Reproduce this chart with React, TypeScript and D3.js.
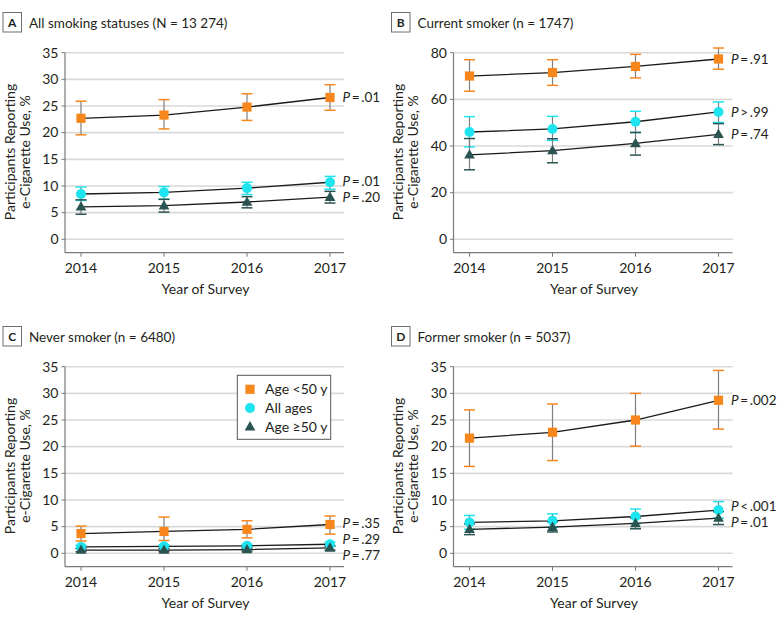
import React from "react";
import * as d3 from "d3";

// ---------- DATA ----------
const years = [2014, 2015, 2016, 2017];
const seriesNames = ["Age <50 y", "All ages", "Age ≥50 y"];

// Panel A: All smoking statuses
const aUnder50 = [22.7, 23.3, 24.8, 26.6];
const aUnder50Lo = [19.6, 20.7, 22.3, 24.2];
const aUnder50Hi = [25.9, 26.2, 27.3, 29.0];
const aAll = [8.5, 8.8, 9.6, 10.7];
const aAllLo = [7.3, 7.5, 8.4, 9.4];
const aAllHi = [9.8, 9.9, 10.7, 11.8];
const aOver50 = [6.1, 6.3, 7.0, 7.9];
const aOver50Lo = [4.7, 5.1, 5.9, 6.8];
const aOver50Hi = [7.4, 7.5, 8.0, 9.0];
const aP = ["=", "=", "="];
const aPv = [".01", ".01", ".20"];

// Panel B: Current smoker
const bUnder50 = [70.0, 71.5, 74.1, 77.3];
const bUnder50Lo = [63.5, 66.0, 69.2, 72.9];
const bUnder50Hi = [77.0, 77.0, 79.3, 82.0];
const bAll = [46.0, 47.3, 50.4, 54.6];
const bAllLo = [39.6, 42.4, 45.8, 50.1];
const bAllHi = [52.6, 52.7, 54.9, 58.9];
const bOver50 = [36.2, 38.0, 41.1, 45.0];
const bOver50Lo = [29.8, 32.8, 36.1, 40.6];
const bOver50Hi = [43.2, 43.1, 45.8, 49.6];
const bP = ["=", ">", "="];
const bPv = [".91", ".99", ".74"];

// Panel C: Never smoker
const cUnder50 = [3.7, 4.1, 4.5, 5.4];
const cUnder50Lo = [2.3, 2.4, 2.9, 3.6];
const cUnder50Hi = [5.1, 6.8, 6.1, 7.0];
const cAll = [1.2, 1.3, 1.4, 1.7];
const cAllLo = [0.9, 1.0, 1.1, 1.3];
const cAllHi = [1.5, 1.6, 1.7, 2.1];
const cOver50 = [0.6, 0.6, 0.7, 1.0];
const cOver50Lo = [0.3, 0.3, 0.4, 0.6];
const cOver50Hi = [0.9, 0.9, 1.0, 1.4];
const cP = ["=", "=", "="];
const cPv = [".35", ".29", ".77"];

// Panel D: Former smoker
const dUnder50 = [21.6, 22.7, 25.0, 28.7];
const dUnder50Lo = [16.3, 17.4, 20.1, 23.3];
const dUnder50Hi = [26.9, 28.0, 30.0, 34.3];
const dAll = [5.8, 6.1, 6.9, 8.1];
const dAllLo = [4.5, 4.9, 5.6, 6.6];
const dAllHi = [7.1, 7.4, 8.3, 9.7];
const dOver50 = [4.5, 4.9, 5.6, 6.6];
const dOver50Lo = [3.5, 4.0, 4.6, 5.4];
const dOver50Hi = [5.5, 5.9, 6.6, 7.8];
const dP = ["=", "<", "="];
const dPv = [".002", ".001", ".01"];

const ticks35 = [0, 5, 10, 15, 20, 25, 30, 35];
const ticks80 = [0, 20, 40, 60, 80];

// ---------- STYLE ----------
const COLORS = ["#F7861C", "#1DE4EF", "#2A5452"];
const FONT = "Lato, 'Open Sans', sans-serif";
const TEXT = "#231F20";

type Series = { mean: number[]; lo: number[]; hi: number[] };
type PanelDef = {
  letter: string;
  title: string;
  ox: number;
  oy: number;
  ticks: number[];
  series: Series[];
  p: string[];
  pv: string[];
  legend?: boolean;
};

const panels: PanelDef[] = [
  {
    letter: "A",
    title: "All smoking statuses (N = 13 274)",
    ox: 0,
    oy: 0,
    ticks: ticks35,
    series: [
      { mean: aUnder50, lo: aUnder50Lo, hi: aUnder50Hi },
      { mean: aAll, lo: aAllLo, hi: aAllHi },
      { mean: aOver50, lo: aOver50Lo, hi: aOver50Hi },
    ],
    p: aP,
    pv: aPv,
  },
  {
    letter: "B",
    title: "Current smoker (n = 1747)",
    ox: 388.5,
    oy: 0,
    ticks: ticks80,
    series: [
      { mean: bUnder50, lo: bUnder50Lo, hi: bUnder50Hi },
      { mean: bAll, lo: bAllLo, hi: bAllHi },
      { mean: bOver50, lo: bOver50Lo, hi: bOver50Hi },
    ],
    p: bP,
    pv: bPv,
  },
  {
    letter: "C",
    title: "Never smoker (n = 6480)",
    ox: 0,
    oy: 314,
    ticks: ticks35,
    series: [
      { mean: cUnder50, lo: cUnder50Lo, hi: cUnder50Hi },
      { mean: cAll, lo: cAllLo, hi: cAllHi },
      { mean: cOver50, lo: cOver50Lo, hi: cOver50Hi },
    ],
    p: cP,
    pv: cPv,
    legend: true,
  },
  {
    letter: "D",
    title: "Former smoker (n = 5037)",
    ox: 388.5,
    oy: 314,
    ticks: ticks35,
    series: [
      { mean: dUnder50, lo: dUnder50Lo, hi: dUnder50Hi },
      { mean: dAll, lo: dAllLo, hi: dAllHi },
      { mean: dOver50, lo: dOver50Lo, hi: dOver50Hi },
    ],
    p: dP,
    pv: dPv,
  },
];

function Marker({ kind, x, y }: { kind: number; x: number; y: number }) {
  if (kind === 0)
    return <rect x={x - 4.6} y={y - 4.6} width={9.2} height={9.2} fill={COLORS[0]} />;
  if (kind === 1) return <circle cx={x} cy={y} r={5} fill={COLORS[1]} />;
  const tri = d3.symbol().type(d3.symbolTriangle).size(50)();
  return <path d={tri || ""} transform={`translate(${x},${y + 0.6})`} fill={COLORS[2]} />;
}

function Panel({ def }: { def: PanelDef }) {
  const { ox, oy } = def;
  const yMax = def.ticks[def.ticks.length - 1];
  const y = d3.scaleLinear().domain([0, yMax]).range([oy + 239.3, oy + 52.7]);
  const x = d3.scaleLinear().domain([2014, 2017]).range([ox + 81, ox + 330]);
  const axisX = ox + 65;
  const axisBottom = oy + 252.7;
  const gridRight = ox + 344;
  const line = d3
    .line<number>()
    .x((_, i) => x(years[i]))
    .y((d) => y(d));

  // P label positions with iterative collision avoidance
  const raw = def.series.map((s, i) => ({ i, y: y(s.mean[s.mean.length - 1]) }));
  const sorted = [...raw].sort((a, b) => a.y - b.y);
  const minGap = 16;
  for (let pass = 0; pass < 40; pass++) {
    let moved = false;
    for (let k = 1; k < sorted.length; k++) {
      const prev = sorted[k - 1];
      const cur = sorted[k];
      const d = cur.y - prev.y;
      if (d < minGap - 0.01) {
        const push = (minGap - d) / 2;
        prev.y -= push;
        cur.y += push;
        moved = true;
      }
    }
    if (!moved) break;
  }

  return (
    <g>
      {/* Panel letter box and title */}
      <rect x={ox + 3} y={oy + 12.5} width={18.5} height={19.5} fill="#fff" stroke="#6d6e70" strokeWidth={1} />
      <text x={ox + 12.25} y={oy + 27} textAnchor="middle" fontWeight={700} fontSize={12} fill={TEXT} fontFamily={FONT}>
        {def.letter}
      </text>
      <text x={ox + 29} y={oy + 28.3} fontSize={13.5} fill={TEXT} fontFamily={FONT}>
        {def.title}
      </text>

      {/* gridlines */}
      {def.ticks.map((t) => (
        <line key={"g" + t} x1={axisX} x2={gridRight} y1={y(t)} y2={y(t)} stroke="#d9d9d9" strokeWidth={1.6} />
      ))}
      {/* y axis */}
      <line x1={axisX} x2={axisX} y1={y(yMax)} y2={axisBottom} stroke="#7a7a7a" strokeWidth={1.2} />
      {def.ticks.map((t) => (
        <g key={"t" + t}>
          <line x1={axisX - 3.5} x2={axisX} y1={y(t)} y2={y(t)} stroke="#7a7a7a" strokeWidth={1} />
          <text x={axisX - 6.5} y={y(t) + 4.8} textAnchor="end" fontSize={14} fill={TEXT} fontFamily={FONT}>
            {t}
          </text>
        </g>
      ))}
      {/* x axis */}
      <line x1={axisX} x2={gridRight} y1={axisBottom} y2={axisBottom} stroke="#7a7a7a" strokeWidth={1.2} />
      {years.map((yr) => (
        <g key={"x" + yr}>
          <line x1={x(yr)} x2={x(yr)} y1={axisBottom} y2={axisBottom + 4} stroke="#7a7a7a" strokeWidth={1} />
          <text x={x(yr)} y={axisBottom + 20} textAnchor="middle" fontSize={14} fill={TEXT} fontFamily={FONT}>
            {yr}
          </text>
        </g>
      ))}
      <text x={(axisX + gridRight) / 2 + 1} y={oy + 293.5} textAnchor="middle" fontSize={14} fill={TEXT} fontFamily={FONT}>
        Year of Survey
      </text>
      {/* y axis title */}
      <text
        transform={`translate(${ox + 14.5},${oy + 152}) rotate(-90)`}
        textAnchor="middle"
        fontSize={14}
        fill={TEXT}
        fontFamily={FONT}
      >
        Participants Reporting
      </text>
      <text
        transform={`translate(${ox + 29.5},${oy + 152}) rotate(-90)`}
        textAnchor="middle"
        fontSize={14}
        fill={TEXT}
        fontFamily={FONT}
      >
        e-Cigarette Use, %
      </text>

      {/* series: error bars, lines, markers */}
      {def.series.map((s, si) => (
        <g key={"s" + si}>
          {s.mean.map((m, i) => (
            <g key={"e" + i}>
              <line x1={x(years[i])} x2={x(years[i])} y1={y(s.lo[i])} y2={y(s.hi[i])} stroke="#7f7f7f" strokeWidth={1.2} />
              <line x1={x(years[i]) - 5.5} x2={x(years[i]) + 5.5} y1={y(s.lo[i])} y2={y(s.lo[i])} stroke={COLORS[si]} strokeWidth={1.5} />
              <line x1={x(years[i]) - 5.5} x2={x(years[i]) + 5.5} y1={y(s.hi[i])} y2={y(s.hi[i])} stroke={COLORS[si]} strokeWidth={1.5} />
            </g>
          ))}
        </g>
      ))}
      {def.series.map((s, si) => (
        <path key={"l" + si} d={line(s.mean) || ""} fill="none" stroke="#1a1a1a" strokeWidth={1.3} />
      ))}
      {def.series.map((s, si) => (
        <g key={"m" + si}>
          {s.mean.map((m, i) => (
            <Marker key={i} kind={si} x={x(years[i])} y={y(m)} />
          ))}
        </g>
      ))}
      {/* P labels */}
      {raw.map((r) => (
        <text key={"p" + r.i} x={ox + 342.5} y={r.y + 4.6} fontSize={13.5} fill={TEXT} fontFamily={FONT}>
          <tspan fontStyle="italic">P</tspan>
          <tspan>{"\u2009" + def.p[r.i] + "\u2009" + def.pv[r.i]}</tspan>
        </text>
      ))}

      {def.legend && (
        <g>
          <rect x={ox + 237.3} y={oy + 375.3 - 314} width={93.4} height={64} fill="#fff" stroke="#555" strokeWidth={1} />
          {seriesNames.map((n, i) => {
            const ly = oy + 389.3 - 314 + i * 18.7;
            return (
              <g key={n}>
                <Marker kind={i} x={ox + 250} y={ly} />
                <text x={ox + 265} y={ly + 4.8} fontSize={14} fill={TEXT} fontFamily={FONT}>
                  {n}
                </text>
              </g>
            );
          })}
        </g>
      )}
    </g>
  );
}

export default function App() {
  return (
    <svg width={780} height={622} style={{ position: "absolute", left: 0, top: 0, background: "#fff" }}>
      <rect width={780} height={622} fill="#fff" />
      {panels.map((p) => (
        <Panel key={p.letter} def={p} />
      ))}
    </svg>
  );
}
